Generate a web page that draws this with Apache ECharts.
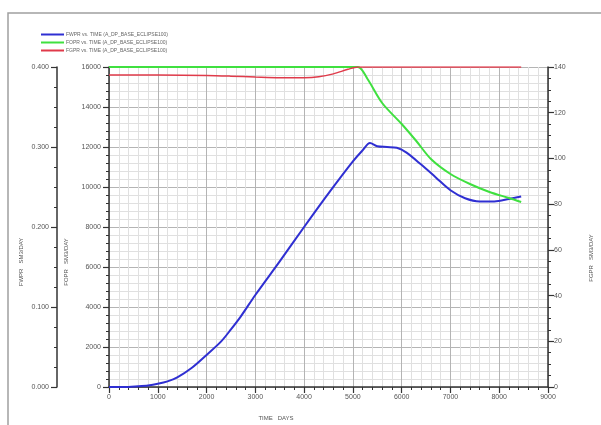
<!DOCTYPE html>
<html>
<head>
<meta charset="utf-8">
<script src="https://cdn.jsdelivr.net/npm/echarts@6/dist/echarts.min.js"></script>
<style>
  html, body { margin: 0; padding: 0; background: #fff; }
  #chart-box { width: 601px; height: 425px; }
</style>
</head>
<body>
<div id="chart-box"></div>
<script>
const fwprDays = [0, 300, 600, 800, 1000, 1200, 1400, 1700, 2000, 2300, 2500, 2700, 3000, 3500, 4000, 4500, 5000, 5200, 5350, 5500, 5700, 5900, 6100, 6400, 6700, 7000, 7300, 7600, 7900, 8200, 8450]
const fwprVals = [0, 0, 0.001, 0.002, 0.004, 0.007, 0.012, 0.024, 0.040, 0.057, 0.072, 0.088, 0.115, 0.157, 0.200, 0.242, 0.282, 0.296, 0.305, 0.301, 0.300, 0.299, 0.293, 0.278, 0.262, 0.246, 0.236, 0.232, 0.232, 0.235, 0.238]

// FOPR (green), axis 0 - 16000
const foprDays = [0, 1000, 2000, 3000, 4000, 5100, 5300, 5600, 6000, 6300, 6600, 7000, 7400, 7800, 8200, 8450]
const foprVals = [16000, 16000, 16000, 16000, 16000, 16000, 15400, 14200, 13150, 12300, 11400, 10650, 10150, 9750, 9450, 9250]

// FGPR (red), right axis 0 - 140
const fgprDays = [0, 1000, 2000, 2500, 3000, 3500, 4000, 4300, 4600, 4900, 5100, 6000, 7000, 8000, 8450]
const fgprVals = [136.5, 136.5, 136.3, 136.0, 135.6, 135.3, 135.3, 135.7, 137.0, 139.0, 140, 140, 140, 140, 140]

const names = [
    'FWPR vs. TIME (A_DP_BASE_ECLIPSE100)',
    'FOPR vs. TIME (A_DP_BASE_ECLIPSE100)',
    'FGPR vs. TIME (A_DP_BASE_ECLIPSE100)'
]

const pairs = (xs, ys) => xs.map((x, i) => [x, ys[i]])

const font = 'Liberation Sans'
const axisLine = {show: true, lineStyle: {color: '#333', width: 1.5}}
const label = {fontSize: 7, color: '#555', fontFamily: font}
const plain = v => String(v)

let chart = echarts.init(document.getElementById('chart-box'))
chart.setOption({
    animation: false,
    backgroundColor: '#fff',
    grid: {left: 109, right: 53, top: 67, bottom: 38},
    legend: {
        orient: 'vertical',
        left: 36,
        top: 27,
        icon: 'rect',
        itemWidth: 23,
        itemHeight: 2,
        itemGap: 3,
        textStyle: {fontSize: 5, color: '#666', fontFamily: font, padding: [0, 0, 0, -3]},
        data: names
    },
    xAxis: {
        type: 'value',
        min: 0,
        max: 9000,
        interval: 1000,
        axisLine: axisLine,
        axisTick: {show: true, length: 6, lineStyle: {color: '#333', width: 1.2}},
        minorTick: {show: true, splitNumber: 5, length: 3, lineStyle: {color: '#333'}},
        axisLabel: Object.assign({margin: 7, formatter: plain}, label),
        splitLine: {show: true, lineStyle: {color: '#b4b4b4', width: 1}},
        minorSplitLine: {show: true, lineStyle: {color: '#e0e0e0', width: 1}}
    },
    yAxis: [
        {
            type: 'value',
            position: 'left',
            min: 0,
            max: 16000,
            interval: 2000,
            axisLine: axisLine,
            axisTick: {show: true, length: 6, lineStyle: {color: '#333', width: 1.2}},
            minorTick: {show: true, splitNumber: 5, length: 3, lineStyle: {color: '#333'}},
            axisLabel: Object.assign({margin: 8, formatter: plain}, label),
            splitLine: {show: true, lineStyle: {color: '#b4b4b4', width: 1}},
            minorSplitLine: {show: true, lineStyle: {color: '#e0e0e0', width: 1}}
        },
        {
            type: 'value',
            position: 'left',
            offset: 52,
            min: 0,
            max: 0.4,
            interval: 0.1,
            axisLine: axisLine,
            axisTick: {show: true, length: 6, lineStyle: {color: '#333', width: 1.2}},
            minorTick: {show: true, splitNumber: 4, length: 3, lineStyle: {color: '#333'}},
            axisLabel: Object.assign({margin: 8, formatter: v => v.toFixed(3)}, label),
            splitLine: {show: false}
        },
        {
            type: 'value',
            position: 'right',
            min: 0,
            max: 140,
            interval: 20,
            axisLine: axisLine,
            axisTick: {show: true, length: 6, lineStyle: {color: '#333', width: 1.2}},
            minorTick: {show: true, splitNumber: 4, length: 3, lineStyle: {color: '#333'}},
            axisLabel: Object.assign({margin: 6, formatter: plain}, label),
            splitLine: {show: false}
        }
    ],
    series: [
        {
            name: names[0],
            type: 'line',
            yAxisIndex: 1,
            symbol: 'none',
            smooth: 0.3,
            color: '#2f2fd2',
            lineStyle: {width: 2},
            data: pairs(fwprDays, fwprVals)
        },
        {
            name: names[1],
            type: 'line',
            yAxisIndex: 0,
            symbol: 'none',
            smooth: 0.3,
            color: '#3fe03f',
            lineStyle: {width: 2},
            data: pairs(foprDays, foprVals)
        },
        {
            name: names[2],
            type: 'line',
            yAxisIndex: 2,
            symbol: 'none',
            smooth: 0.3,
            color: '#e03a4a',
            lineStyle: {width: 1.5},
            data: pairs(fgprDays, fgprVals)
        }
    ],
    graphic: [
        {type: 'rect', shape: {x: 8, y: 13, width: 640, height: 460}, style: {fill: 'none', stroke: '#a0a0a0', lineWidth: 1.5}, silent: true},
        {type: 'text', x: 21, y: 262, rotation: Math.PI / 2, style: {text: 'FWPR   SM3/DAY', fontSize: 6, fill: '#555', fontFamily: font, textAlign: 'center', textVerticalAlign: 'middle'}},
        {type: 'text', x: 66, y: 262, rotation: Math.PI / 2, style: {text: 'FOPR   SM3/DAY', fontSize: 6, fill: '#555', fontFamily: font, textAlign: 'center', textVerticalAlign: 'middle'}},
        {type: 'text', x: 591, y: 258, rotation: Math.PI / 2, style: {text: 'FGPR   SM3/DAY', fontSize: 6, fill: '#555', fontFamily: font, textAlign: 'center', textVerticalAlign: 'middle'}},
        {type: 'text', x: 276, y: 418, style: {text: 'TIME   DAYS', fontSize: 6, fill: '#555', fontFamily: font, textAlign: 'center', textVerticalAlign: 'middle'}}
    ]
})
</script>
</body>
</html>
